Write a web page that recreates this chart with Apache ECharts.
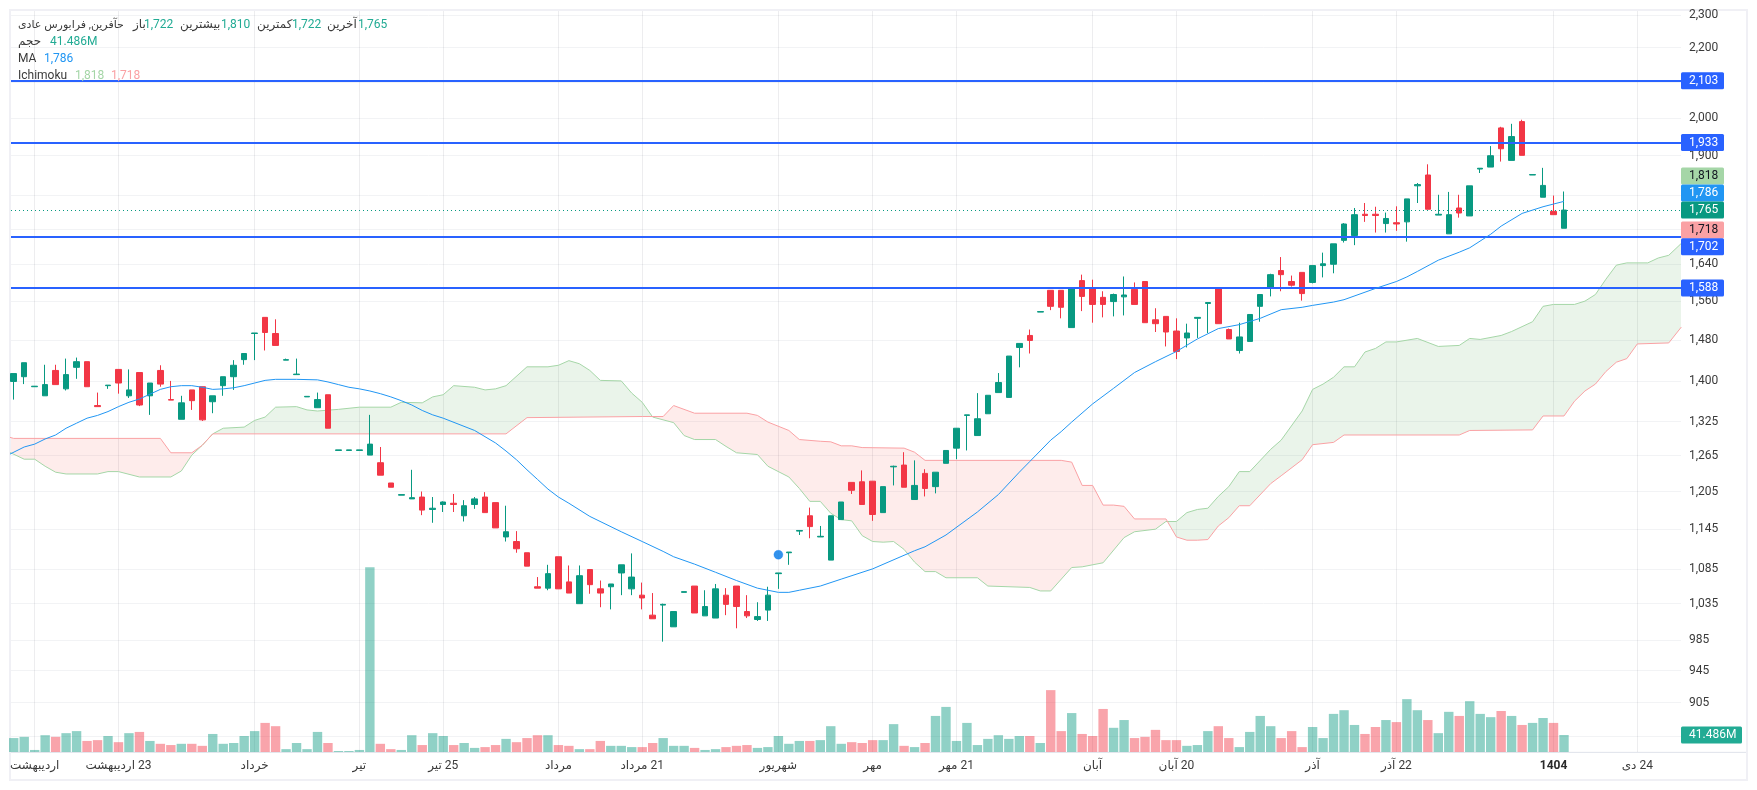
<!DOCTYPE html>
<html><head><meta charset="utf-8">
<style>html,body{margin:0;padding:0;background:#fff}#c{width:1757px;height:790px}</style>
<script src="https://cdn.jsdelivr.net/npm/echarts@6/dist/echarts.min.js"></script>
</head><body><div id="c"></div>
<script>
const opens=[1399,1408,1389,1372,1420,1385,1426,1437,1354,1391,1422,1372,1416,1372,1420,1365,1329,1383,1389,1361,1391,1408,1441,1493,1526,1493,1440,1412,1370,1350,1374,1274,1274,1274,1266,1253,1219,1199,1193,1196,1176,1184,1186,1166,1184,1196,1187,1133,1126,1109,1059,1057,1103,1066,1035,1084,1056,1059,1079,1056,1047,1019,1033,1003,1051,1060,1018,1015,1047,1060,1024,1013,1026,1078,1109,1142,1166,1133,1098,1160,1220,1221,1222,1171,1246,1249,1192,1235,1213,1252,1278,1336,1300,1339,1378,1369,1465,1489,1537,1583,1583,1505,1604,1589,1568,1559,1569,1585,1602,1521,1528,1498,1484,1524,1555,1589,1501,1459,1477,1549,1589,1626,1602,1622,1600,1637,1640,1694,1705,1755,1755,1733,1735,1737,1824,1851,1753,1709,1770,1751,1866,1871,1973,1888,1990,1851,1796,1762,1722];
const closes=[1414,1435,1390,1393,1393,1412,1437,1389,1352,1392,1396,1383,1355,1396,1394,1364,1359,1363,1328,1372,1408,1430,1453,1494,1495,1469,1441,1413,1371,1365,1313,1275,1275,1275,1285,1232,1212,1200,1195,1175,1178,1188,1184,1182,1193,1171,1147,1141,1115,1089,1057,1078,1056,1050,1075,1062,1050,1063,1091,1073,1043,1014,1034,1024,1052,1022,1031,1056,1034,1031,1018,1017,1047,1079,1110,1143,1149,1134,1166,1188,1207,1184,1168,1213,1247,1212,1215,1210,1237,1274,1313,1337,1330,1373,1397,1448,1473,1479,1538,1549,1547,1589,1570,1553,1553,1574,1573,1553,1515,1513,1496,1457,1494,1526,1557,1513,1482,1486,1532,1574,1617,1617,1594,1576,1637,1641,1686,1732,1754,1752,1752,1745,1732,1792,1827,1767,1755,1754,1758,1824,1868,1900,1918,1950,1901,1852,1825,1754,1765];
const highs=[1414,1435,1390,1431,1431,1443,1445,1437,1378,1392,1422,1422,1416,1396,1430,1400,1372,1383,1389,1372,1408,1440,1453,1494,1526,1522,1443,1443,1371,1378,1374,1275,1275,1275,1337,1280,1219,1200,1241,1205,1196,1189,1201,1191,1196,1204,1187,1182,1142,1109,1073,1091,1103,1090,1090,1084,1068,1063,1091,1108,1065,1050,1035,1024,1052,1060,1054,1063,1057,1060,1047,1037,1059,1079,1110,1143,1179,1150,1166,1188,1220,1240,1222,1213,1248,1271,1257,1242,1237,1274,1313,1337,1377,1373,1415,1448,1473,1501,1538,1583,1583,1589,1617,1606,1581,1576,1613,1600,1602,1545,1528,1524,1513,1526,1557,1589,1503,1515,1532,1574,1619,1656,1615,1622,1637,1666,1686,1734,1770,1782,1773,1759,1774,1792,1831,1878,1802,1809,1802,1824,1868,1925,1976,1984,1995,1852,1869,1800,1810];
const lows=[1365,1394,1389,1372,1393,1382,1404,1389,1352,1385,1376,1368,1353,1337,1389,1364,1329,1346,1326,1340,1372,1383,1431,1440,1459,1469,1440,1412,1370,1350,1313,1274,1274,1274,1266,1232,1212,1199,1193,1167,1155,1172,1172,1157,1177,1171,1147,1126,1109,1089,1057,1054,1056,1050,1035,1049,1030,1027,1047,1047,1027,1014,983,1003,1051,1022,1018,1015,1019,1001,1015,1011,1011,1056,1091,1136,1131,1133,1098,1160,1201,1184,1158,1171,1215,1212,1192,1197,1202,1252,1259,1274,1300,1339,1378,1369,1426,1453,1537,1541,1524,1505,1539,1515,1526,1528,1530,1553,1515,1496,1467,1442,1465,1484,1494,1513,1482,1453,1477,1517,1570,1581,1591,1561,1598,1611,1620,1689,1683,1737,1712,1712,1716,1691,1782,1767,1753,1709,1747,1751,1856,1871,1885,1888,1901,1851,1796,1754,1722];
const volumes=[34,37,5,41,37,46,51,27,29,39,24,46,49,27,20,17,20,20,15,44,20,22,39,51,71,63,7,22,7,49,22,2.5,2.5,5,451,20,7,5,41,17,46,39,17,22,10,12,17,32,24,34,41,41,17,15,7,7,27,15,15,12,12,22,34,15,15,10,5,7,12,15,17,10,12,39,20,27,27,29,63,20,24,22,29,29,68,15,12,22,88,110,27,71,17,32,41,32,39,39,22,151,51,95,44,39,105,59,78,34,37,54,29,29,15,17,51,63,34,12,49,88,63,34,51,12,61,34,93,102,66,44,61,78,73,129,102,78,46,98,88,124,93,85,100,88,66,71,83,71,41.486];
const maLine=[[-1,1262],[1,1280],[2,1285],[3,1294],[4,1301],[5,1313],[6,1322],[7,1331],[8,1336],[9,1343],[10,1352],[11,1360],[12,1366],[13,1375],[14,1384],[15,1389],[16,1391],[17,1391],[18,1388],[19,1384],[20,1385],[21,1387],[22,1391],[23,1396],[24,1401],[25,1403],[27,1403],[29,1402],[30,1398],[31,1393],[32,1388],[33,1385],[34,1381],[35,1376],[36,1370],[37,1363],[38,1355],[39,1345],[40,1337],[41,1331],[44,1309],[46,1287],[47,1273],[48,1258],[49,1241],[50,1225],[51,1209],[52,1196],[53,1186],[55,1165],[58,1141],[60,1126],[62,1111],[63,1103],[65,1092],[67,1080],[69,1068],[71,1057],[73,1051],[74,1051],[75,1054],[77,1060],[79,1070],[82,1085],[86,1112],[87,1118],[89,1136],[92,1172],[94,1200],[96,1237],[97,1255],[99,1292],[100,1307],[101,1324],[103,1357],[105,1386],[107,1416],[109,1437],[111,1457],[113,1482],[115,1503],[117,1511],[119,1524],[121,1542],[123,1547],[124,1551],[126,1558],[127,1563],[130,1587],[132,1602],[133,1612],[134,1624],[136,1649],[138,1667],[139,1677],[141,1708],[142,1727],[144,1757],[146,1773],[148,1786]];
const spanA=[[-1,1276],[1,1259],[2,1259],[3,1247],[4,1237],[5,1234],[8,1234],[9,1238],[10,1238],[12,1229],[15,1229],[16,1239],[17,1266],[18,1283],[19,1303],[20,1313],[22,1315],[23,1327],[24,1333],[25,1351],[27,1352],[28,1346],[29,1344],[31,1347],[33,1351],[36,1351],[37,1360],[39,1359],[40,1370],[41,1374],[42,1391],[44,1388],[45,1383],[46,1385],[47,1391],[49,1427],[51,1427],[52,1430],[53,1439],[54,1433],[55,1420],[56,1401],[58,1400],[59,1377],[60,1360],[61,1333],[63,1323],[64,1300],[65,1293],[67,1293],[68,1281],[69,1270],[71,1267],[72,1247],[74,1229],[75,1210],[76,1189],[77,1189],[78,1170],[79,1160],[80,1158],[81,1135],[82,1126],[83,1125],[84,1126],[85,1114],[86,1095],[87,1081],[88,1081],[89,1072],[92,1072],[93,1060],[97,1058],[98,1053],[99,1053],[101,1087],[102,1088],[104,1094],[106,1132],[107,1141],[109,1145],[110,1157],[111,1157],[112,1171],[113,1176],[114,1178],[115,1197],[116,1213],[117,1238],[118,1238],[120,1276],[121,1292],[123,1344],[124,1384],[125,1394],[126,1407],[127,1427],[128,1427],[129,1456],[130,1463],[131,1476],[132,1476],[134,1483],[136,1467],[138,1469],[139,1483],[140,1481],[142,1489],[143,1497],[145,1517],[146,1549],[147,1553],[149,1553],[150,1560],[151,1574],[152,1607],[153,1638],[154,1643],[156,1643],[157,1654],[158,1660],[159.2,1687]];
const spanB=[[-1,1300],[0,1295],[14,1295],[15,1270],[17,1270],[18,1283],[19,1303],[47,1303],[49,1332],[60,1334],[62,1334],[63,1354],[65,1340],[70,1340],[71,1336],[72,1324],[74,1309],[75,1293],[77,1290],[78,1289],[79,1282],[80,1282],[81,1279],[85,1278],[86,1271],[87,1257],[100,1257],[101,1254],[102,1215],[103,1215],[104,1183],[105,1183],[106,1181],[107,1161],[110,1161],[111,1133],[112,1128],[113,1128],[114,1129],[115,1150],[116,1163],[117,1182],[118,1182],[120,1218],[121,1231],[123,1258],[124,1284],[126,1288],[127,1301],[138,1301],[139,1309],[145,1310],[146,1335],[148,1335],[149,1362],[150,1381],[151,1394],[152,1418],[153,1436],[154,1443],[155,1472],[158,1474],[159.2,1506]];
const markerPoint=[[73,1106]];
const levels=[2103,1933,1702,1588];
const lastClose=1765;
const priceTicks=[2300,2200,2100,2000,1900,1800,1720,1640,1560,1480,1400,1325,1265,1205,1145,1085,1035,985,945,905,865];
const timeTickIdx=[2,10,23,33,41,52,60,73,82,90,103,111,124,132,147,155];
const timeTickText=['اردیبهشت','اردیبهشت \u200e23','خرداد','تیر','تیر \u200e25','مرداد','مرداد \u200e21','شهریور','مهر','مهر \u200e21','آبان','آبان \u200e20','آذر','آذر \u200e22','1404','دی \u200e24'];
const tagValues=[2103,1933,1818,1786,1765,1718,1702,1588];
const tagTexts=['2,103','1,933','1,818','1,786','1,765','1,718','1,702','1,588'];
const tagBg=['#2962ff','#2962ff','#a5d6a7','#2196f3','#089981','#faa1a4','#2962ff','#2962ff'];
const tagFg=['#fff','#fff','#131722','#fff','#fff','#131722','#fff','#fff'];
const tagShift=[0,-0.5,-12.2,-8.4,0,0,10,0];
const legendTexts=['حآفرین, فرابورس عادی','باز','1,722','بیشترین','1,810','کمترین','1,722','آخرین','1,765','حجم','41.486M','MA','1,786','Ichimoku','1,818','1,718'];
const legendColors=['#3a3a3a','#3a3a3a','#22ab94','#3a3a3a','#22ab94','#3a3a3a','#22ab94','#3a3a3a','#22ab94','#3a3a3a','#22ab94','#3a3a3a','#2196f3','#3a3a3a','#a5d6a7','#faa1a4'];
const legendSizes=[11,12,12,12,12,12,12,12,12,12,12,12,12,12,12,12];
const legendX=[18,133,144,180,221,257,292,327,358,18,50,18,44,18,75,111];
const legendY=[25,25,25,25,25,25,25,25,25,42,42,59,59,76,76,76];

const FONT='Roboto, "Noto Sans", "DejaVu Sans", sans-serif';
const UP='#089981',DOWN='#f23645';
const X_MIN=-0.26,X_MAX=159.17,Y_MIN=846.4,Y_MAX=2312,VOL_MAX=1808;

function cloudRender(params,api){
  const pa=spanA.map(p=>api.coord(p)),pb=spanB.map(p=>api.coord(p));
  const yAt=(pts,x)=>{for(let i=1;i<pts.length;i++){if(x<=pts[i][0]){const t=(x-pts[i-1][0])/(pts[i][0]-pts[i-1][0]);return pts[i-1][1]+t*(pts[i][1]-pts[i-1][1]);}}return pts[pts.length-1][1];};
  const xs=[...new Set([...pa.map(p=>p[0]),...pb.map(p=>p[0])])].sort((a,b)=>a-b);
  const kids=[];let up=[],lo=[],sign=0;
  const flush=()=>{if(up.length>1)kids.push({type:'polygon',shape:{points:up.concat(lo.slice().reverse())},style:{fill:sign>0?'rgba(67,160,71,0.115)':'rgba(244,67,54,0.1)'},silent:true});up=[];lo=[];};
  xs.forEach((x,k)=>{
    const a=yAt(pa,x),b=yAt(pb,x),d=b-a;
    const s=d>0?1:(d<0?-1:0);
    if(sign!==0&&s!==0&&s!==sign&&k>0){
      const x0=xs[k-1],a0=yAt(pa,x0),b0=yAt(pb,x0),d0=b0-a0,t=d0/(d0-d),xc=x0+t*(x-x0),yc=a0+t*(a-a0);
      up.push([xc,yc]);lo.push([xc,yc]);flush();up.push([xc,yc]);lo.push([xc,yc]);
    }
    if(s!==0)sign=s;
    up.push([x,a]);lo.push([x,b]);
  });
  flush();
  return {type:'group',children:kids};
}
function tagShape(api,value,text,bg,fg,shift){
  const c=api.coord([X_MAX,value]);
  const w=text.length>5?61:43,h=17;
  return {type:'group',children:[
    {type:'rect',shape:{x:c[0],y:c[1]+shift-h/2,width:w,height:h,r:1.5},style:{fill:bg}},
    {type:'text',style:{text:text,x:c[0]+8,y:c[1]+shift,fill:fg,font:'12px '+FONT,textAlign:'left',verticalAlign:'middle'}}
  ]};
}
const graphics=[
  {type:'rect',shape:{x:10,y:10,width:1737,height:770},style:{fill:'none',stroke:'#f0f0f5',lineWidth:2},silent:true,z:-1},
  {type:'line',shape:{x1:11,y1:752.4,x2:1746,y2:752.4},style:{stroke:'#e0e3eb',lineWidth:1},silent:true}
].concat(legendTexts.map((t,i)=>({type:'text',x:legendX[i],y:legendY[i],silent:true,z:50,style:{text:t,fill:legendColors[i],font:legendSizes[i]+'px '+FONT,textAlign:'left',textVerticalAlign:'middle'}})));

const option={
  animation:false,
  backgroundColor:'#fff',
  textStyle:{fontFamily:FONT},
  graphic:graphics,
  grid:{left:11,right:76,top:11,bottom:38,containLabel:false},
  xAxis:{type:'value',min:X_MIN,max:X_MAX,
    axisLine:{show:false},
    axisTick:{show:false,customValues:timeTickIdx},
    splitLine:{show:true,lineStyle:{color:'rgba(60,60,80,0.09)',width:1}},
    axisLabel:{customValues:timeTickIdx,margin:8,fontSize:12,color:'#3a3a3a',fontFamily:FONT,hideOverlap:false,showMinLabel:true,showMaxLabel:true,
      formatter:v=>{const t=timeTickText[timeTickIdx.indexOf(v)]||'';return t==='1404'?'{b|1404}':t;},
      rich:{b:{fontWeight:'bold',fontSize:12,color:'#2a2a2a',fontFamily:FONT}}}},
  yAxis:[
    {type:'log',logBase:10,min:Y_MIN,max:Y_MAX,position:'right',
      axisLine:{show:false},axisTick:{show:false,customValues:priceTicks},
      splitLine:{show:true,lineStyle:{color:'#f2f3f5',width:1}},
      axisLabel:{customValues:priceTicks,margin:8,fontSize:12,color:'#3a3a3a',fontFamily:FONT,align:'left',hideOverlap:false,showMinLabel:true,showMaxLabel:true,
        formatter:v=>Number(v).toLocaleString('en-US')}},
    {type:'value',min:0,max:VOL_MAX,show:false,splitLine:{show:false}}
  ],
  series:[
    {name:'volume',type:'bar',yAxisIndex:1,barWidth:9.4,z:1,silent:true,
      data:volumes.map((v,i)=>[i,v]),
      itemStyle:{opacity:0.45,color:p=>closes[p.dataIndex]>=opens[p.dataIndex]?UP:DOWN}},
    {name:'cloud',type:'custom',clip:true,z:2,silent:true,renderItem:cloudRender,data:[[0,1000]],encode:{x:0,y:1}},
    {name:'spanA',type:'line',data:spanA,showSymbol:false,symbol:'none',z:3,silent:true,lineStyle:{color:'#a5d6a7',width:1}},
    {name:'spanB',type:'line',data:spanB,showSymbol:false,symbol:'none',z:3,silent:true,lineStyle:{color:'#faa1a4',width:1}},
    {name:'price',type:'candlestick',z:4,silent:true,barWidth:6,
      data:opens.map((o,i)=>[i,o,closes[i],lows[i],highs[i]]),
      itemStyle:{color:UP,color0:DOWN,borderColor:UP,borderColor0:DOWN,borderWidth:1}},
    {name:'ma',type:'line',data:maLine,showSymbol:false,symbol:'none',z:5,silent:true,lineStyle:{color:'#2196f3',width:1},
      markLine:{silent:true,symbol:'none',animation:false,label:{show:false},
        data:levels.map(v=>({yAxis:v,lineStyle:{color:'#2962ff',width:2,type:'solid'}})).concat([{yAxis:lastClose,lineStyle:{color:UP,width:1,type:[1,3]}}])}},
    {name:'marker',type:'scatter',data:markerPoint,symbolSize:9,z:6,silent:true,itemStyle:{color:'#0077e6',borderColor:'rgba(0,120,255,0.35)',borderWidth:1}},
    {name:'priceTags',type:'custom',z:8,silent:true,clip:false,data:tagValues.map(v=>[X_MAX,v]),encode:{x:0,y:1},
      renderItem:(p,api)=>tagShape(api,tagValues[p.dataIndex],tagTexts[p.dataIndex],tagBg[p.dataIndex],tagFg[p.dataIndex],tagShift[p.dataIndex])},
    {name:'volTag',type:'custom',yAxisIndex:1,z:8,silent:true,clip:false,data:[[X_MAX,volumes[volumes.length-1]]],encode:{x:0,y:1},
      renderItem:(p,api)=>tagShape(api,volumes[volumes.length-1],'41.486M','#22ab94','#fff',0)}
  ]
};
const chart=echarts.init(document.getElementById('c'),null,{renderer:'canvas'});
chart.setOption(option);
</script></body></html>
